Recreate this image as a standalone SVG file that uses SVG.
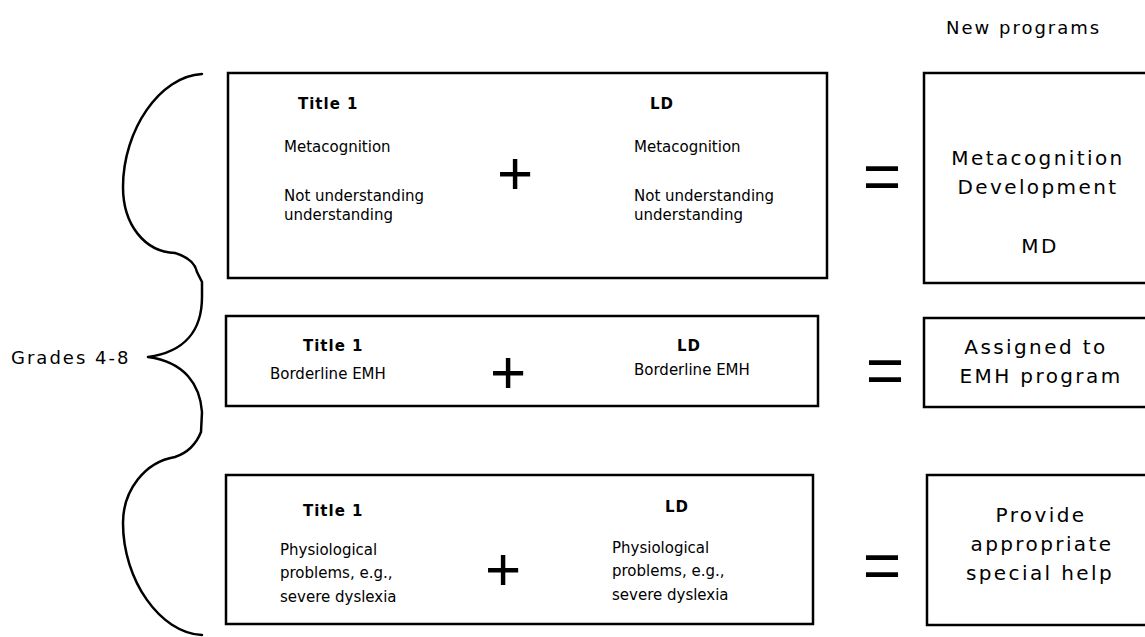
<svg xmlns="http://www.w3.org/2000/svg" width="1145" height="637" viewBox="0 0 1145 637">
<style>
.box{fill:none;stroke:#000;stroke-width:2.5}
.brace{fill:none;stroke:#000;stroke-width:2.5;stroke-linecap:round;stroke-linejoin:round}
.t{font-family:"DejaVu Sans",Verdana,sans-serif;fill:#000}
.body{font-size:15px}
.head{font-size:15px;font-weight:bold;letter-spacing:1px}
.big{font-size:20px;letter-spacing:2.4px;text-anchor:middle}
.lab{font-size:18px;letter-spacing:2px}
.op{font-family:"Liberation Sans",Arial,sans-serif;text-anchor:middle;fill:#000}
.plus{font-size:62px}
.eq{font-size:66px}
</style>
<rect width="1145" height="637" fill="#fff"/>
<g id="connectors">
<path class="brace" d="M202,74 C160,76 123,130 123,187 C123,225 145,252 175,253 C185,256 195,262 197,272 L202,282 L202,297 C202,330 185,352 148,357 C185,362 200,385 202,412 L201,432 C197,442 190,452 175,457 C145,462 123,490 123,523 C123,580 160,633 202,635"/>
</g>
<g id="label-new-programs"><text class="t lab" x="946" y="34">New programs</text></g>
<g id="label-grades"><text class="t lab" x="11" y="364">Grades 4-8</text></g>
<g id="row1">
<rect class="box" x="228" y="73" width="599" height="205"/>
<text class="t head" x="298" y="109">Title 1</text>
<text class="t body" x="284" y="152">Metacognition</text>
<text class="t body" x="284" y="201">Not understanding</text>
<text class="t body" x="284" y="220">understanding</text>
<text class="t head" x="650" y="109">LD</text>
<text class="t body" x="634" y="152">Metacognition</text>
<text class="t body" x="634" y="201">Not understanding</text>
<text class="t body" x="634" y="220">understanding</text>
<text class="op plus" x="515" y="194">+</text>
</g>
<g id="result1">
<text class="op eq" x="882" y="199">=</text>
<rect class="box" x="924" y="73" width="230" height="210"/>
<text class="t big" x="1038" y="165">Metacognition</text>
<text class="t big" x="1038" y="194">Development</text>
<text class="t big" x="1040" y="253">MD</text>
</g>
<g id="row2">
<rect class="box" x="226" y="316" width="592" height="90"/>
<text class="t head" x="303" y="351">Title 1</text>
<text class="t body" x="270" y="379">Borderline EMH</text>
<text class="t head" x="677" y="351">LD</text>
<text class="t body" x="634" y="375">Borderline EMH</text>
<text class="op plus" x="508" y="393">+</text>
</g>
<g id="result2">
<text class="op eq" x="885" y="393">=</text>
<rect class="box" x="924" y="318" width="230" height="89"/>
<text class="t big" x="1036" y="354">Assigned to</text>
<text class="t big" x="1041" y="383">EMH program</text>
</g>
<g id="row3">
<rect class="box" x="226" y="475" width="587" height="149"/>
<text class="t head" x="303" y="516">Title 1</text>
<text class="t body" x="280" y="555">Physiological</text>
<text class="t body" x="280" y="578">problems, e.g.,</text>
<text class="t body" x="280" y="602">severe dyslexia</text>
<text class="t head" x="665" y="512">LD</text>
<text class="t body" x="612" y="553">Physiological</text>
<text class="t body" x="612" y="576">problems, e.g.,</text>
<text class="t body" x="612" y="600">severe dyslexia</text>
<text class="op plus" x="503" y="590">+</text>
</g>
<g id="result3">
<text class="op eq" x="882" y="588">=</text>
<rect class="box" x="927" y="475" width="230" height="150"/>
<text class="t big" x="1041" y="522">Provide</text>
<text class="t big" x="1042" y="551">appropriate</text>
<text class="t big" x="1040" y="580">special help</text>
</g>
</svg>
